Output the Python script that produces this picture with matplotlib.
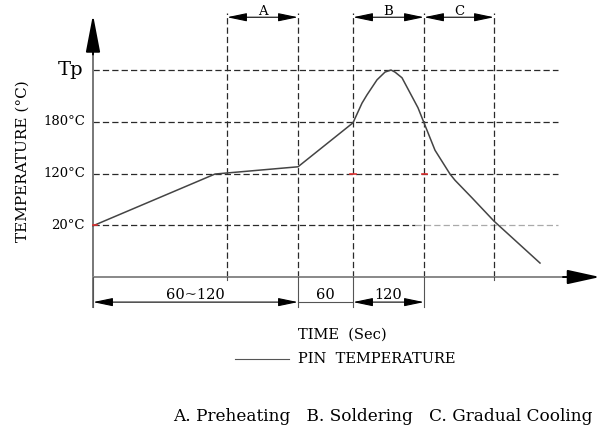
import matplotlib
matplotlib.use("Agg")
from matplotlib import pyplot as plt

# schematic reflow profile, x = time units, y = temperature level (1..4)
level_labels = ["20°C", "120°C", "180°C", "Tp"]
levels = [1, 2, 3, 4]

# zone boundaries on the time axis
bounds = [0, 134, 205, 260, 331, 401]
zones = ["A", "B", "C"]
zone_spans = [(134, 205), (260, 331), (331, 401)]

# pin temperature curve
curve_x = [0, 122, 205, 260, 269, 274, 284, 292, 298, 302, 309, 317, 325, 331, 342, 357, 362, 379, 401, 447]
curve_y = [0.99, 1.99, 2.13, 2.98, 3.36, 3.52, 3.81, 3.96, 4.0, 3.96, 3.85, 3.56, 3.27, 2.98, 2.45, 1.99, 1.87, 1.53, 1.08, 0.27]

# dimension line under the axis
dims = [(0, 205, "60~120", True), (205, 260, "60", False), (260, 331, "120", True)]

plt.rcParams['font.family'] = ['DejaVu Serif']

fig = plt.figure(figsize=(5.98, 4.26), dpi=100)
ax = fig.add_axes([0, 0, 1, 1])
ax.set_xlim(-93, 505)
ax.set_ylim(-2.879, 5.353)
ax.axis("off")

dash = (0, (5, 2.5))
grid_col = "#2a2a2a"

# horizontal dashed levels
for lv in levels:
    if lv == 1:
        ax.plot([0, 322], [lv, lv], color=grid_col, lw=0.9, ls=dash)
        ax.plot([322, 465], [lv, lv], color="#aaaaaa", lw=0.9, ls=dash)
    else:
        ax.plot([0, 465], [lv, lv], color=grid_col, lw=0.9, ls=dash)

# vertical dashed zone lines
for b in bounds[1:]:
    ax.plot([b, b], [0, 5.1], color=grid_col, lw=0.9, ls=dash)

# axes
ax.plot([0, 0], [-0.58, 4.5], color="#777777", lw=1.4)
ax.annotate("", xy=(0, 5.07), xytext=(0, 4.3),
            arrowprops=dict(arrowstyle="-|>,head_length=1.15,head_width=0.22",
                            mutation_scale=20, color="black", lw=1.4, shrinkA=0, shrinkB=0))
ax.plot([0, 480], [0, 0], color="#888888", lw=1.4)
ax.annotate("", xy=(507, 0), xytext=(470, 0), annotation_clip=False,
            arrowprops=dict(arrowstyle="-|>,head_length=1.0,head_width=0.22",
                            mutation_scale=20, color="black", lw=1.4, shrinkA=0, shrinkB=0))

# curve
ax.plot(curve_x, curve_y, color="#444444", lw=1.1)

# tiny red marks
for mx in [(0, 4), (257, 263), (329, 334)]:
    lv = 1 if mx[0] == 0 else 2
    ax.plot(mx, [lv, lv], color="#e03030", lw=1.2)

# level labels
for lv, lab in zip(levels, level_labels):
    if lab == "Tp":
        ax.text(-10, lv, lab, ha="right", va="center", fontsize=14)
    else:
        ax.text(-8, lv, lab, ha="right", va="center", fontsize=9.5)

ax.text(-70, 2.24, "TEMPERATURE (°C)", rotation=90, ha="center", va="center", fontsize=11)

# zone brackets at the top
for (x0, x1), z in zip(zone_spans, zones):
    ax.annotate("", xy=(x0, 5.02), xytext=(x1, 5.02),
                arrowprops=dict(arrowstyle="<|-|>,head_length=1.2,head_width=0.25",
                                mutation_scale=10, color="black", lw=0.8, shrinkA=0, shrinkB=0))
    ax.text((x0 + x1) / 2, 5.13, z, ha="center", va="center", fontsize=9.5)

# extension lines and ticks below the axis
for b in [0, 205, 260, 331]:
    ax.plot([b, b], [0, -0.58], color="#555555", lw=0.8)
for b in [134, 401]:
    ax.plot([b, b], [0, -0.06], color="#555555", lw=0.8)

for x0, x1, lab, arrows in dims:
    if arrows:
        ax.annotate("", xy=(x0, -0.485), xytext=(x1, -0.485),
                    arrowprops=dict(arrowstyle="<|-|>,head_length=1.2,head_width=0.25",
                                    mutation_scale=10, color="black", lw=0.8, shrinkA=0, shrinkB=0))
    else:
        ax.plot([x0, x1], [-0.485, -0.485], color="#555555", lw=0.8)
    ax.text((x0 + x1) / 2, -0.34, lab, ha="center", va="center", fontsize=10.5)

ax.text(205, -1.12, "TIME  (Sec)", ha="left", va="center", fontsize=10.5)
ax.plot([142, 196], [-1.58, -1.58], color="#555555", lw=0.8)
ax.text(205, -1.58, "PIN  TEMPERATURE", ha="left", va="center", fontsize=10.5)

ax.text(80, -2.7, "A. Preheating   B. Soldering   C. Gradual Cooling",
        ha="left", va="center", fontsize=12.2)

fig.savefig("out.png", dpi=100)
